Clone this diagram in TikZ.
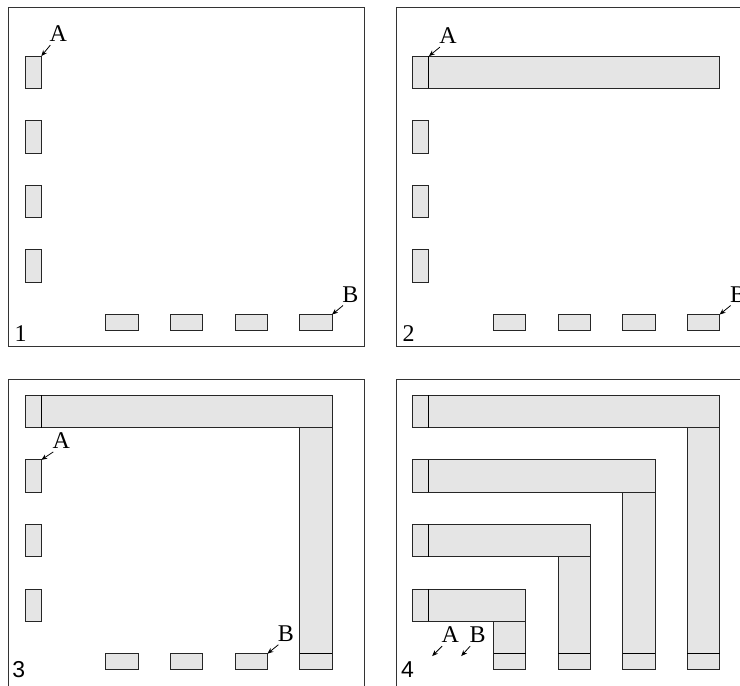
\documentclass[tikz,border=0pt]{standalone}
\usepackage{fontspec}
\setmainfont{Liberation Serif}
\setsansfont{Liberation Sans}
\usetikzlibrary{arrows.meta,positioning}

\tikzset{
  cell/.style={draw=black!85,fill=black!10,line width=0.5pt},
  split/.style={draw=black,line width=0.5pt},
  frame/.style={draw=black!80,line width=0.5pt},
  pointer/.style={-{Stealth[length=3pt,width=2.4pt]},line width=0.4pt},
  tag/.style={inner sep=0pt,font=\fontsize{12}{14}\selectfont},
  num/.style={inner sep=0pt,anchor=south west,font=\fontsize{12}{14}\selectfont},
}

\begin{document}
\begin{tikzpicture}[x=8.075pt,y=8.075pt]
    \useasboundingbox (-4.5pt,0) rectangle (365.5pt,343pt);
    % 1
    \begin{scope}[shift={(0,21)}]
        \draw [frame] (0,0) rectangle (22,21);
        \foreach \y in {4,8,12,16} \draw [cell] (1,\y) rectangle (2,\y+2);
        \foreach \x in {6,10,14,18} \draw [cell] (\x,1) rectangle (\x+2,2);
        \coordinate (a1) at (2,18);
        \coordinate (b1) at (20,2);
        \node [tag,above right=7pt and 4pt of a1] (A1) {A};
        \node [tag,above right=6pt and 5pt of b1] (B1) {B};
        \draw [pointer] ([xshift=0.5pt,yshift=-1.5pt]A1.south west) -- (a1);
        \draw [pointer] ([xshift=0.5pt,yshift=-1.5pt]B1.south west) -- (b1);
        \node [num] (n1) at (0.33,0.31) {1};
    \end{scope}
    % 2
    \begin{scope}[shift={(24,21)}]
        \draw [frame] (0,0) rectangle (22,21);
        \draw [cell] (1,16) rectangle (20,18);
        \draw [split] (2,16) -- (2,18);
        \foreach \y in {4,8,12} \draw [cell] (1,\y) rectangle (2,\y+2);
        \foreach \x in {6,10,14,18} \draw [cell] (\x,1) rectangle (\x+2,2);
        \coordinate (a2) at (2,18);
        \coordinate (b2) at (20,2);
        \node [tag,above right=6pt and 5pt of a2] (A2) {A};
        \node [tag,above right=6pt and 5pt of b2] (B2) {B};
        \draw [pointer] ([xshift=0.5pt,yshift=-1.5pt]A2.south west) -- (a2);
        \draw [pointer] ([xshift=0.5pt,yshift=-1.5pt]B2.south west) -- (b2);
        \node [num] (n2) at (0.35,0.31) {2};
    \end{scope}
    % 3
    \begin{scope}[shift={(0,0)}]
        \draw [frame] (0,-1) rectangle (22,19);
        \draw [cell] (1,16) rectangle (20,18);
        \draw [split] (2,16) -- (2,18);
        \draw [cell] (18,1) rectangle (20,16);
        \draw [split] (18,2) -- (20,2);
        \foreach \y in {4,8,12} \draw [cell] (1,\y) rectangle (2,\y+2);
        \foreach \x in {6,10,14} \draw [cell] (\x,1) rectangle (\x+2,2);
        \coordinate (a3) at (2,14);
        \coordinate (b3) at (16,2);
        \node [tag,above right=5.5pt and 5.5pt of a3] (A3) {A};
        \node [tag,above right=6pt and 5pt of b3] (B3) {B};
        \draw [pointer] ([xshift=0.5pt,yshift=-1.5pt]A3.south west) -- (a3);
        \draw [pointer] ([xshift=0.5pt,yshift=-1.5pt]B3.south west) -- (b3);
        \node [num,font=\sffamily\fontsize{11.5}{13}\selectfont] (n3) at (0.19,0.5) {3};
    \end{scope}
    % 4
    \begin{scope}[shift={(24,0)}]
        \draw [frame] (0,-1) rectangle (22,19);
        \foreach \y/\x in {16/20,12/16,8/12,4/8} {
            \draw [cell] (1,\y) rectangle (\x,\y+2);
            \draw [split] (2,\y) -- (2,\y+2);
            \draw [cell] (\x-2,1) rectangle (\x,\y);
            \draw [split] (\x-2,2) -- (\x,2);
        }
        \coordinate (a4) at (2.2,1.85);
        \coordinate (b4) at (4.0,1.85);
        \node [tag,above right=6.5pt and 4.5pt of a4] (A4) {A};
        \node [tag,above right=6.5pt and 4pt of b4] (B4) {B};
        \draw [pointer] ([xshift=0.5pt,yshift=-1.5pt]A4.south west) -- (a4);
        \draw [pointer] ([xshift=0.5pt,yshift=-1.5pt]B4.south west) -- (b4);
        \node [num,font=\sffamily\fontsize{11.5}{13}\selectfont] (n4) at (0.25,0.5) {4};
    \end{scope}
\end{tikzpicture}
\end{document}
